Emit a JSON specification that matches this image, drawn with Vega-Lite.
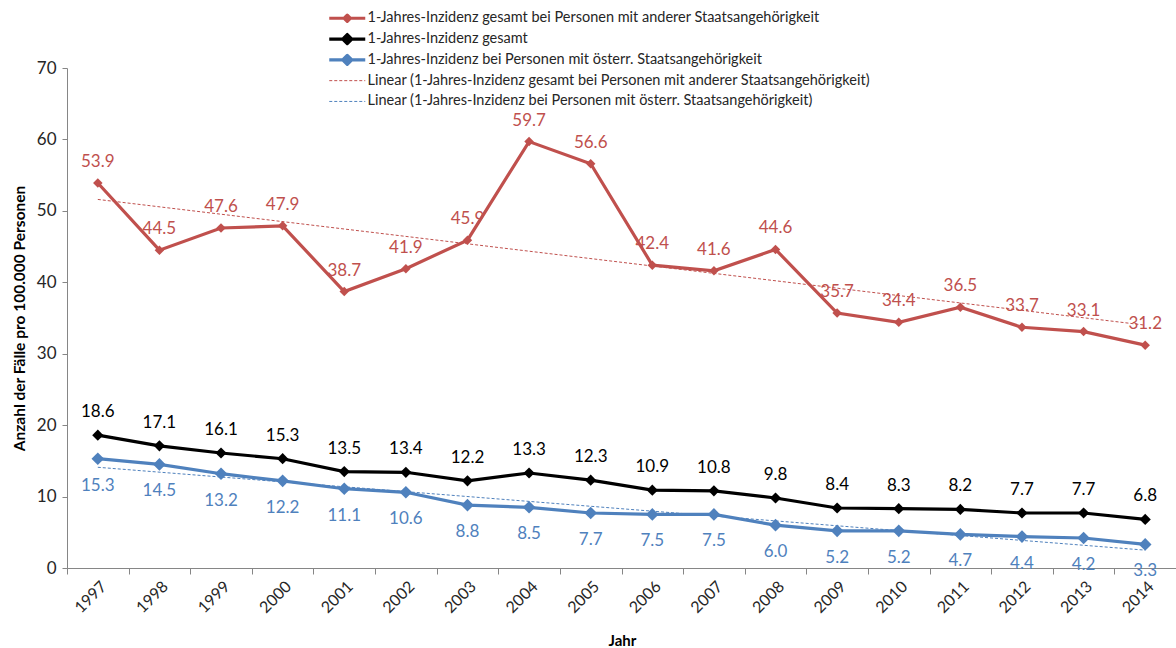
{
  "$schema": "https://vega.github.io/schema/vega-lite/v6.json",
  "width": 1109,
  "height": 500,
  "autosize": {"type": "none"},
  "padding": {"left": 67, "top": 68, "right": 0, "bottom": 80},
  "background": "white",
  "config": {"view": {"stroke": null}, "font": "Lato"},
  "datasets": {
    "main": [
      {"year": "1997", "series": "1-Jahres-Inzidenz gesamt bei Personen mit anderer Staatsangehörigkeit", "value": 53.9},
      {"year": "1998", "series": "1-Jahres-Inzidenz gesamt bei Personen mit anderer Staatsangehörigkeit", "value": 44.5},
      {"year": "1999", "series": "1-Jahres-Inzidenz gesamt bei Personen mit anderer Staatsangehörigkeit", "value": 47.6},
      {"year": "2000", "series": "1-Jahres-Inzidenz gesamt bei Personen mit anderer Staatsangehörigkeit", "value": 47.9},
      {"year": "2001", "series": "1-Jahres-Inzidenz gesamt bei Personen mit anderer Staatsangehörigkeit", "value": 38.7},
      {"year": "2002", "series": "1-Jahres-Inzidenz gesamt bei Personen mit anderer Staatsangehörigkeit", "value": 41.9},
      {"year": "2003", "series": "1-Jahres-Inzidenz gesamt bei Personen mit anderer Staatsangehörigkeit", "value": 45.9},
      {"year": "2004", "series": "1-Jahres-Inzidenz gesamt bei Personen mit anderer Staatsangehörigkeit", "value": 59.7},
      {"year": "2005", "series": "1-Jahres-Inzidenz gesamt bei Personen mit anderer Staatsangehörigkeit", "value": 56.6},
      {"year": "2006", "series": "1-Jahres-Inzidenz gesamt bei Personen mit anderer Staatsangehörigkeit", "value": 42.4},
      {"year": "2007", "series": "1-Jahres-Inzidenz gesamt bei Personen mit anderer Staatsangehörigkeit", "value": 41.6},
      {"year": "2008", "series": "1-Jahres-Inzidenz gesamt bei Personen mit anderer Staatsangehörigkeit", "value": 44.6},
      {"year": "2009", "series": "1-Jahres-Inzidenz gesamt bei Personen mit anderer Staatsangehörigkeit", "value": 35.7},
      {"year": "2010", "series": "1-Jahres-Inzidenz gesamt bei Personen mit anderer Staatsangehörigkeit", "value": 34.4},
      {"year": "2011", "series": "1-Jahres-Inzidenz gesamt bei Personen mit anderer Staatsangehörigkeit", "value": 36.5},
      {"year": "2012", "series": "1-Jahres-Inzidenz gesamt bei Personen mit anderer Staatsangehörigkeit", "value": 33.7},
      {"year": "2013", "series": "1-Jahres-Inzidenz gesamt bei Personen mit anderer Staatsangehörigkeit", "value": 33.1},
      {"year": "2014", "series": "1-Jahres-Inzidenz gesamt bei Personen mit anderer Staatsangehörigkeit", "value": 31.2},
      {"year": "1997", "series": "1-Jahres-Inzidenz gesamt", "value": 18.6},
      {"year": "1998", "series": "1-Jahres-Inzidenz gesamt", "value": 17.1},
      {"year": "1999", "series": "1-Jahres-Inzidenz gesamt", "value": 16.1},
      {"year": "2000", "series": "1-Jahres-Inzidenz gesamt", "value": 15.3},
      {"year": "2001", "series": "1-Jahres-Inzidenz gesamt", "value": 13.5},
      {"year": "2002", "series": "1-Jahres-Inzidenz gesamt", "value": 13.4},
      {"year": "2003", "series": "1-Jahres-Inzidenz gesamt", "value": 12.2},
      {"year": "2004", "series": "1-Jahres-Inzidenz gesamt", "value": 13.3},
      {"year": "2005", "series": "1-Jahres-Inzidenz gesamt", "value": 12.3},
      {"year": "2006", "series": "1-Jahres-Inzidenz gesamt", "value": 10.9},
      {"year": "2007", "series": "1-Jahres-Inzidenz gesamt", "value": 10.8},
      {"year": "2008", "series": "1-Jahres-Inzidenz gesamt", "value": 9.8},
      {"year": "2009", "series": "1-Jahres-Inzidenz gesamt", "value": 8.4},
      {"year": "2010", "series": "1-Jahres-Inzidenz gesamt", "value": 8.3},
      {"year": "2011", "series": "1-Jahres-Inzidenz gesamt", "value": 8.2},
      {"year": "2012", "series": "1-Jahres-Inzidenz gesamt", "value": 7.7},
      {"year": "2013", "series": "1-Jahres-Inzidenz gesamt", "value": 7.7},
      {"year": "2014", "series": "1-Jahres-Inzidenz gesamt", "value": 6.8},
      {"year": "1997", "series": "1-Jahres-Inzidenz bei Personen mit österr. Staatsangehörigkeit", "value": 15.3},
      {"year": "1998", "series": "1-Jahres-Inzidenz bei Personen mit österr. Staatsangehörigkeit", "value": 14.5},
      {"year": "1999", "series": "1-Jahres-Inzidenz bei Personen mit österr. Staatsangehörigkeit", "value": 13.2},
      {"year": "2000", "series": "1-Jahres-Inzidenz bei Personen mit österr. Staatsangehörigkeit", "value": 12.2},
      {"year": "2001", "series": "1-Jahres-Inzidenz bei Personen mit österr. Staatsangehörigkeit", "value": 11.1},
      {"year": "2002", "series": "1-Jahres-Inzidenz bei Personen mit österr. Staatsangehörigkeit", "value": 10.6},
      {"year": "2003", "series": "1-Jahres-Inzidenz bei Personen mit österr. Staatsangehörigkeit", "value": 8.8},
      {"year": "2004", "series": "1-Jahres-Inzidenz bei Personen mit österr. Staatsangehörigkeit", "value": 8.5},
      {"year": "2005", "series": "1-Jahres-Inzidenz bei Personen mit österr. Staatsangehörigkeit", "value": 7.7},
      {"year": "2006", "series": "1-Jahres-Inzidenz bei Personen mit österr. Staatsangehörigkeit", "value": 7.5},
      {"year": "2007", "series": "1-Jahres-Inzidenz bei Personen mit österr. Staatsangehörigkeit", "value": 7.5},
      {"year": "2008", "series": "1-Jahres-Inzidenz bei Personen mit österr. Staatsangehörigkeit", "value": 6.0},
      {"year": "2009", "series": "1-Jahres-Inzidenz bei Personen mit österr. Staatsangehörigkeit", "value": 5.2},
      {"year": "2010", "series": "1-Jahres-Inzidenz bei Personen mit österr. Staatsangehörigkeit", "value": 5.2},
      {"year": "2011", "series": "1-Jahres-Inzidenz bei Personen mit österr. Staatsangehörigkeit", "value": 4.7},
      {"year": "2012", "series": "1-Jahres-Inzidenz bei Personen mit österr. Staatsangehörigkeit", "value": 4.4},
      {"year": "2013", "series": "1-Jahres-Inzidenz bei Personen mit österr. Staatsangehörigkeit", "value": 4.2},
      {"year": "2014", "series": "1-Jahres-Inzidenz bei Personen mit österr. Staatsangehörigkeit", "value": 3.3}
    ],
    "trend": [
      {"year": "1997", "series": "Linear (1-Jahres-Inzidenz gesamt bei Personen mit anderer Staatsangehörigkeit)", "value": 51.6},
      {"year": "2014", "series": "Linear (1-Jahres-Inzidenz gesamt bei Personen mit anderer Staatsangehörigkeit)", "value": 34.0},
      {"year": "1997", "series": "Linear (1-Jahres-Inzidenz bei Personen mit österr. Staatsangehörigkeit)", "value": 14.1},
      {"year": "2014", "series": "Linear (1-Jahres-Inzidenz bei Personen mit österr. Staatsangehörigkeit)", "value": 2.5}
    ]
  },
  "encoding": {
    "x": {
      "field": "year",
      "type": "ordinal",
      "scale": {"type": "band", "paddingInner": 0, "paddingOuter": 0, "domain": ["1997","1998","1999","2000","2001","2002","2003","2004","2005","2006","2007","2008","2009","2010","2011","2012","2013","2014"]},
      "axis": {
        "title": "Jahr",
        "titleFontWeight": "bold",
        "titleFontSize": 15,
        "titleColor": "#000000",
        "titleX": 555,
        "titleY": 72,
        "titleAlign": "center",
        "titleBaseline": "middle",
        "labelAngle": -45,
        "labelFontSize": 16,
        "labelColor": "#262626",
        "tickBand": "extent",
        "domainColor": "#868686",
        "tickColor": "#868686",
        "tickSize": 6,
        "labelPadding": 4,
        "grid": false
      }
    },
    "y": {
      "field": "value",
      "type": "quantitative",
      "scale": {"domain": [0, 70], "nice": false},
      "axis": {
        "title": "Anzahl der Fälle pro 100.000 Personen",
        "titleFontWeight": "bold",
        "titleFontSize": 15.5,
        "titleColor": "#000000",
        "titleAngle": -90,
        "titleX": -48,
        "titleY": 250,
        "titleAlign": "center",
        "titleBaseline": "middle",
        "values": [0, 10, 20, 30, 40, 50, 60, 70],
        "labelFontSize": 17,
        "labelColor": "#262626",
        "grid": false,
        "domainColor": "#868686",
        "tickColor": "#868686",
        "tickSize": 5,
        "labelPadding": 6
      }
    }
  },
  "layer": [
    {
      "data": {"name": "trend"},
      "mark": {"type": "line", "strokeWidth": 1, "strokeDash": [3, 2]},
      "encoding": {
        "color": {
          "field": "series",
          "type": "nominal",
          "scale": {
            "domain": [
              "1-Jahres-Inzidenz gesamt bei Personen mit anderer Staatsangehörigkeit",
              "1-Jahres-Inzidenz gesamt",
              "1-Jahres-Inzidenz bei Personen mit österr. Staatsangehörigkeit",
              "Linear (1-Jahres-Inzidenz gesamt bei Personen mit anderer Staatsangehörigkeit)",
              "Linear (1-Jahres-Inzidenz bei Personen mit österr. Staatsangehörigkeit)"
            ],
            "range": ["#C0504D", "#000000", "#4F81BD", "#C0504D", "#4F81BD"]
          },
          "legend": {
            "orient": "none",
            "legendX": 273,
            "legendY": -57,
            "title": null,
            "padding": 0,
            "symbolSize": 100,
            "labelFontSize": 14.5,
            "labelFont": "Lato",
            "labelColor": "#262626",
            "labelOffset": 13,
            "rowPadding": 5.8,
            "labelLimit": 800,
            "encode": {
              "symbols": {
                "update": {
                  "shape": {"signal": "datum.index == 0 ? 'M-3.6,0H3.6M0,-0.6L0.6,0L0,0.6L-0.6,0Z' : datum.index < 3 ? 'M-3.6,0H3.6M0,-0.9L0.9,0L0,0.9L-0.9,0Z' : 'M-3.6,0H3.6'"},
                  "strokeWidth": {"signal": "datum.index < 3 ? 3.2 : 1"},
                  "strokeJoin": {"value": "round"},
                  "strokeDash": {"signal": "datum.index < 3 ? [] : [3, 2]"},
                  "fill": {"signal": "datum.index < 3 ? scale('color', datum.value) : 'transparent'"},
                  "stroke": {"signal": "scale('color', datum.value)"},
                  "opacity": {"value": 1}
                }
              }
            }
          }
        }
      }
    },
    {
      "data": {"name": "main"},
      "mark": {"type": "line", "strokeWidth": 3.2},
      "encoding": {
        "color": {"field": "series", "type": "nominal"}
      }
    },
    {
      "data": {"name": "main"},
      "mark": {"type": "point", "shape": "diamond", "filled": true, "opacity": 1},
      "encoding": {
        "color": {"field": "series", "type": "nominal"},
        "size": {
          "field": "series",
          "type": "nominal",
          "legend": null,
          "scale": {
            "domain": [
              "1-Jahres-Inzidenz gesamt bei Personen mit anderer Staatsangehörigkeit",
              "1-Jahres-Inzidenz gesamt",
              "1-Jahres-Inzidenz bei Personen mit österr. Staatsangehörigkeit"
            ],
            "range": [90, 160, 160]
          }
        }
      }
    },
    {
      "data": {"name": "main"},
      "transform": [{"filter": "datum.series == '1-Jahres-Inzidenz gesamt bei Personen mit anderer Staatsangehörigkeit'"}],
      "mark": {"type": "text", "dy": -21, "fontSize": 17, "align": "center", "baseline": "middle"},
      "encoding": {
        "text": {"field": "value", "type": "quantitative", "format": ".1f"},
        "color": {"field": "series", "type": "nominal"}
      }
    },
    {
      "data": {"name": "main"},
      "transform": [{"filter": "datum.series == '1-Jahres-Inzidenz gesamt'"}],
      "mark": {"type": "text", "dy": -23, "fontSize": 17, "align": "center", "baseline": "middle"},
      "encoding": {
        "text": {"field": "value", "type": "quantitative", "format": ".1f"},
        "color": {"field": "series", "type": "nominal"}
      }
    },
    {
      "data": {"name": "main"},
      "transform": [{"filter": "datum.series == '1-Jahres-Inzidenz bei Personen mit österr. Staatsangehörigkeit'"}],
      "mark": {"type": "text", "dy": 27, "fontSize": 17, "align": "center", "baseline": "middle"},
      "encoding": {
        "text": {"field": "value", "type": "quantitative", "format": ".1f"},
        "color": {"field": "series", "type": "nominal"}
      }
    }
  ]
}
